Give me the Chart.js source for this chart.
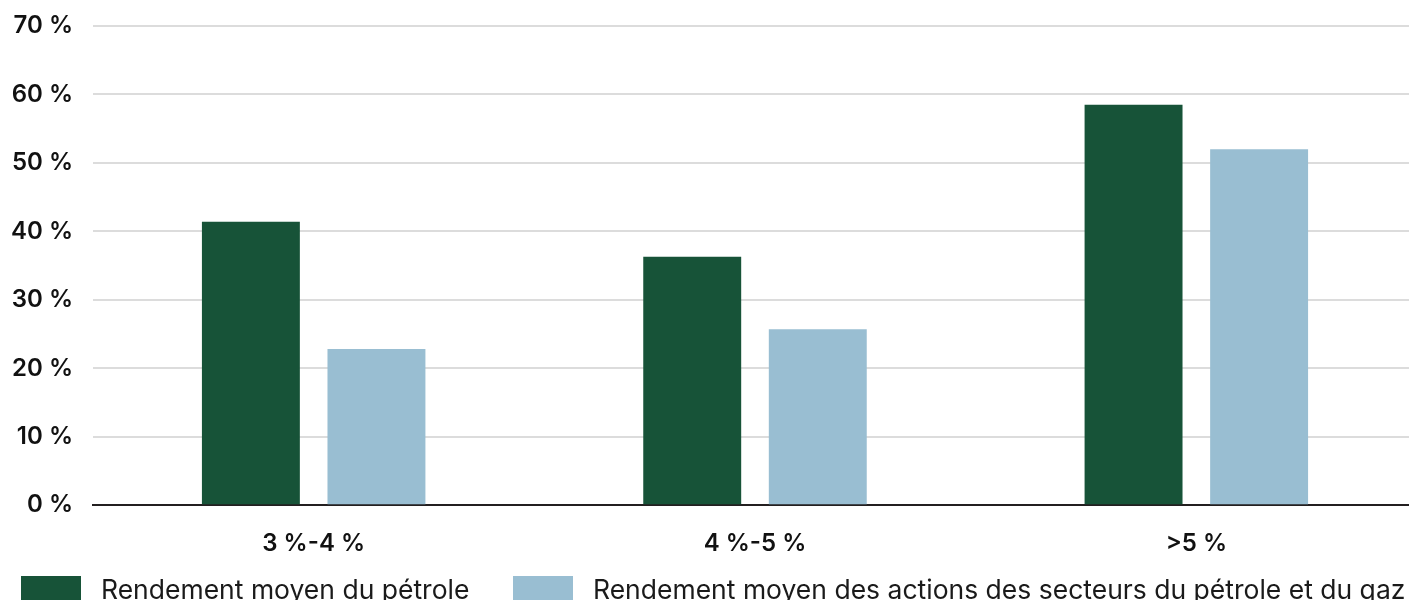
<!DOCTYPE html>
<html>
<head>
<meta charset="utf-8">
<script src="https://cdn.jsdelivr.net/npm/chart.js@4"></script>
<style>
  html, body { margin: 0; padding: 0; background: #fff; overflow: hidden; width: 1409px; height: 600px; }
  #wrap { position: absolute; left: 0; top: 0; width: 1420px; height: 600px; }
  canvas { display: block; }
  .leg { position: absolute; top: 576px; display: flex; align-items: flex-start; font-family: Inter, sans-serif; font-size: 26.5px; color: #1a1a1a; white-space: nowrap; }
  .leg .box { width: 60px; height: 30px; margin-right: 20px; }
  .leg .txt { line-height: 1; margin-top: 0px; }
</style>
</head>
<body>
<div id="wrap"><canvas id="c" width="1420" height="600"></canvas></div>
<div class="leg" style="left:21px"><div class="box" style="background:#175338"></div><div class="txt" id="l0"></div></div>
<div class="leg" style="left:513px"><div class="box" style="background:#99bed2"></div><div class="txt" id="l1"></div></div>
<script>
const categories = ["3 %-4 %", "4 %-5 %", ">5 %"];
const seriesNames = ["Rendement moyen du pétrole", "Rendement moyen des actions des secteurs du pétrole et du gaz"];
const oilReturn = [41.4, 36.3, 58.5];
const equityReturn = [22.8, 25.7, 52.0];
const yTicks = [0, 10, 20, 30, 40, 50, 60, 70];
const colors = ["#175338", "#99bed2"];

document.getElementById('l0').textContent = seriesNames[0];
document.getElementById('l1').textContent = seriesNames[1];

new Chart(document.getElementById('c'), {
  type: 'bar',
  data: {
    labels: categories,
    datasets: [
      { label: seriesNames[0], data: oilReturn, backgroundColor: colors[0], categoryPercentage: 0.569, barPercentage: 0.78 },
      { label: seriesNames[1], data: equityReturn, backgroundColor: colors[1], categoryPercentage: 0.569, barPercentage: 0.78 }
    ]
  },
  options: {
    responsive: false,
    animation: false,
    devicePixelRatio: 1,
    layout: { padding: { top: 26, right: 3, bottom: 18, left: 0 } },
    plugins: { legend: { display: false }, tooltip: { enabled: false } },
    scales: {
      x: {
        grid: { display: false, drawTicks: false },
        border: { display: true, color: '#231f20', width: 2 },
        ticks: { padding: 24, color: '#111111', font: { family: 'Inter', size: 24, weight: '600' } }
      },
      y: {
        min: 0, max: 70,
        afterFit: s => { s.width = 93; s.paddingTop = 0; },
        afterBuildTicks: s => { s.ticks = yTicks.map(v => ({ value: v })); },
        grid: { color: '#dcdcdc', lineWidth: 2, drawTicks: false },
        border: { display: false },
        ticks: { padding: 20, color: '#111111', font: { family: 'Inter', size: 24, weight: '600' }, callback: v => v + ' %' }
      }
    }
  }
});
</script>
</body>
</html>
